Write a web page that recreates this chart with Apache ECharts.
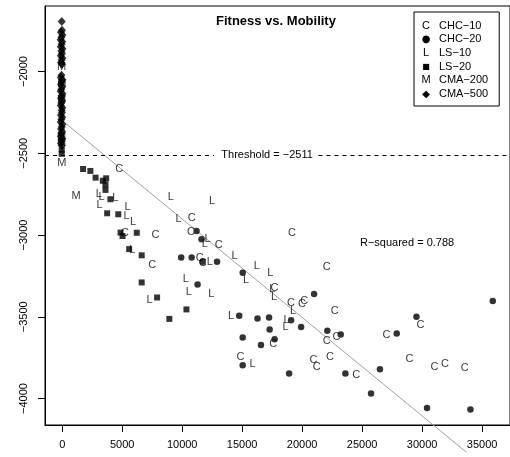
<!DOCTYPE html>
<html>
<head>
<meta charset="utf-8">
<script src="https://cdn.jsdelivr.net/npm/echarts@6/dist/echarts.min.js"></script>
<style>html,body{margin:0;padding:0;background:#fff}#c{width:510px;height:457px}</style>
</head>
<body>
<div id="c"></div>
<script>
// ---- data ----
const xTicks = [0, 5000, 10000, 15000, 20000, 25000, 30000, 35000];
const yTicks = [-4000, -3500, -3000, -2500, -2000];
const titleText = 'Fitness vs. Mobility';
const thresholdValue = -2511;
const thresholdText = 'Threshold = \u22122511';
const rsqText = 'R\u2212squared = 0.788';
const seriesNames = ['CHC\u221210', 'CHC\u221220', 'LS\u221210', 'LS\u221220', 'CMA\u2212200', 'CMA\u2212500'];
const seriesGlyphs = ['C', '\u25CF', 'L', '\u25A0', 'M', '\u25C6'];

const chc10 = [[4757,-2596],[5226,-2990],[7777,-3000],[7497,-3184],[10790,-2894],[10740,-2979],[13045,-3061],[11465,-3138],[11711,-3172],[19159,-2990],[22040,-3198],[17703,-3326],[19077,-3418],[19982,-3423],[20172,-3405],[22723,-3466],[22040,-3649],[22863,-3623],[17596,-3669],[14855,-3744],[20945,-3767],[21217,-3810],[22312,-3743],[24509,-3857],[27035,-3612],[29858,-3551],[28953,-3759],[31035,-3807],[31916,-3786],[33561,-3813]];
const chc20 = [[11201,-2976],[11613,-3026],[9917,-3138],[10790,-3138],[11711,-3164],[12904,-3164],[11283,-3302],[15044,-3231],[14756,-3493],[16279,-3510],[17242,-3504],[19077,-3521],[19916,-3562],[17291,-3578],[20995,-3361],[22097,-3585],[23216,-3608],[15044,-3627],[17703,-3638],[16567,-3672],[15044,-3796],[18913,-3847],[23603,-3847],[26484,-3821],[25743,-3970],[27883,-3602],[29529,-3500],[30410,-4058],[34031,-4067],[35891,-3404]];
const ls10 = [[3053,-2751],[3276,-2767],[3111,-2816],[4428,-2772],[5440,-2827],[5358,-2882],[5909,-2919],[5852,-3092],[7284,-3398],[9061,-2766],[12493,-2790],[9695,-2904],[12106,-3026],[11892,-3052],[14361,-3126],[12304,-3167],[10312,-3271],[10559,-3346],[12436,-3361],[16221,-3187],[17349,-3230],[15332,-3273],[17513,-3327],[17653,-3380],[19241,-3464],[14082,-3496],[18707,-3521],[18608,-3563],[15867,-3787]];
const ls20 = [[-40,-2478],[-40,-2503],[1737,-2596],[2346,-2608],[2782,-2649],[3383,-2668],[3662,-2653],[3605,-2690],[3605,-2724],[4016,-2781],[3745,-2867],[4675,-2873],[4864,-2985],[5029,-3006],[6214,-2986],[5580,-3086],[6625,-3124],[6625,-3290],[7909,-3382],[10353,-3455],[8930,-3513]];
const cma200 = [[-60,-1969],[-40,-2075],[-60,-2173],[-60,-2398],[-60,-2438],[-40,-2561],[1154,-2758]];
const cma500 = [[-40,-1694],[-20,-1748],[-110,-1760],[20,-1776],[-70,-1790],[-130,-1805],[0,-1818],[-50,-1833],[-120,-1848],[20,-1860],[-70,-1874],[-20,-1889],[-120,-1903],[10,-1917],[-50,-1930],[-100,-1944],[-20,-1955],[-60,-2022],[-120,-2036],[10,-2050],[-40,-2064],[-110,-2079],[0,-2093],[-70,-2108],[-130,-2121],[20,-2136],[-40,-2150],[-100,-2164],[-10,-2179],[-70,-2193],[-120,-2207],[10,-2222],[-50,-2236],[-20,-2250],[-110,-2265],[0,-2280],[-70,-2294],[-130,-2309],[10,-2323],[-40,-2338],[-100,-2352],[-10,-2366],[-70,-2381],[-120,-2395],[0,-2409],[-50,-2424],[-100,-2438],[-30,-2452]];
const regression = [[0,-2300],[33702,-4329]];
const thresholdGapStart = 12658, thresholdGapEnd = 21357;
const thresholdLabelX = 17077;
const rsqPos = [28747, -3049];
const xRange = [-1436, 37327];
const yRange = [-4162, -1599];

// ---- chart ----
const FONT = '"Liberation Sans", Arial, Helvetica, sans-serif';
const chart = echarts.init(document.getElementById('c'), null, {renderer: 'canvas'});
const minusFmt = v => String(v).replace('-', '\u2212');

function letterSeries(name, letter, data) {
  return {
    name, type: 'scatter', data, symbol: 'circle', symbolSize: 1,
    itemStyle: {color: 'rgba(0,0,0,0)'},
    label: {show: true, position: 'inside', formatter: letter, color: '#000', fontSize: 11, fontFamily: FONT},
    emphasis: {disabled: true}, silent: true
  };
}
function shapeSeries(name, symbol, size, data) {
  return {
    name, type: 'scatter', data, symbol, symbolSize: size,
    itemStyle: {color: '#000'}, emphasis: {disabled: true}, silent: true
  };
}

const glyphStyle = {};
seriesNames.forEach((n, i) => glyphStyle[n] = i % 2 === 0 ? 'l' : ['c','q','d'][(i - 1) / 2]);

chart.setOption({
  animation: false,
  backgroundColor: '#fff',
  title: {
    text: titleText, left: 216, top: 15, padding: 0,
    textStyle: {fontSize: 13, fontWeight: 'bold', fontFamily: FONT, color: '#000'}
  },
  legend: {
    orient: 'vertical', left: 414, top: 12,
    padding: [7.7, 11, 6, 0],
    borderColor: '#000', borderWidth: 1, borderRadius: 0,
    icon: 'none', itemWidth: 1, itemHeight: 12, itemGap: 1.66,
    selectedMode: false,
    data: seriesNames,
    formatter: name => '{' + glyphStyle[name] + '|' + seriesGlyphs[seriesNames.indexOf(name)] + '}{t|' + name + '}',
    textStyle: {
      fontFamily: FONT, fontSize: 11, color: '#000', lineHeight: 12,
      rich: {
        l: {width: 12, align: 'center', fontSize: 11, lineHeight: 12, fontFamily: FONT, color: '#000'},
        c: {width: 12, align: 'center', fontSize: 10, lineHeight: 12, fontFamily: '"DejaVu Sans"', color: '#000'},
        q: {width: 12, align: 'center', fontSize: 8, lineHeight: 12, fontFamily: '"DejaVu Sans"', color: '#000'},
        d: {width: 12, align: 'center', fontSize: 10, lineHeight: 12, fontFamily: '"DejaVu Sans"', color: '#000'},
        t: {padding: [0, 0, 0, 7], fontSize: 11, lineHeight: 12, fontFamily: FONT, color: '#000'}
      }
    }
  },
  grid: {left: 45, right: -6, top: 6, bottom: 32, show: true, borderColor: '#000', borderWidth: 1, backgroundColor: 'transparent'},
  xAxis: {
    type: 'value', min: xRange[0], max: xRange[1],
    splitLine: {show: false},
    axisLine: {show: true, onZero: false, lineStyle: {color: '#000', width: 1}},
    axisTick: {show: true, length: 7, customValues: xTicks, lineStyle: {color: '#000'}},
    axisLabel: {customValues: xTicks, margin: 14, color: '#000', fontSize: 11, fontFamily: FONT, formatter: minusFmt}
  },
  yAxis: {
    type: 'value', min: yRange[0], max: yRange[1],
    splitLine: {show: false},
    axisLine: {show: true, onZero: false, lineStyle: {color: '#000', width: 1}},
    axisTick: {show: true, length: 7, customValues: yTicks, lineStyle: {color: '#000'}},
    axisLabel: {customValues: yTicks, rotate: 90, margin: 16, color: '#000', fontSize: 11, fontFamily: FONT, formatter: minusFmt}
  },
  series: [
    {
      name: 'regression', type: 'line', data: regression, symbol: 'none', clip: false,
      lineStyle: {color: '#a0a0a0', width: 1}, silent: true, z: 1,
      markLine: {
        silent: true, symbol: ['none', 'none'], animation: false,
        lineStyle: {color: '#000', width: 1, type: [4, 4]},
        label: {show: false},
        data: [
          [{coord: [xRange[0], thresholdValue]}, {coord: [thresholdGapStart, thresholdValue]}],
          [{coord: [thresholdGapEnd, thresholdValue]}, {coord: [xRange[1], thresholdValue]}]
        ]
      },
      markPoint: {
        silent: true, symbol: 'circle', symbolSize: 0, animation: false,
        label: {show: true, position: 'inside', color: '#000', fontSize: 11, fontFamily: FONT},
        data: [
          {coord: [thresholdLabelX, thresholdValue], label: {formatter: thresholdText}},
          {coord: rsqPos, label: {formatter: rsqText}}
        ]
      }
    },
    letterSeries(seriesNames[0], 'C', chc10),
    shapeSeries(seriesNames[1], 'circle', 6.5, chc20),
    letterSeries(seriesNames[2], 'L', ls10),
    shapeSeries(seriesNames[3], 'rect', 6, ls20),
    letterSeries(seriesNames[4], 'M', cma200),
    shapeSeries(seriesNames[5], 'diamond', [8, 9], cma500)
  ]
});
</script>
</body>
</html>
